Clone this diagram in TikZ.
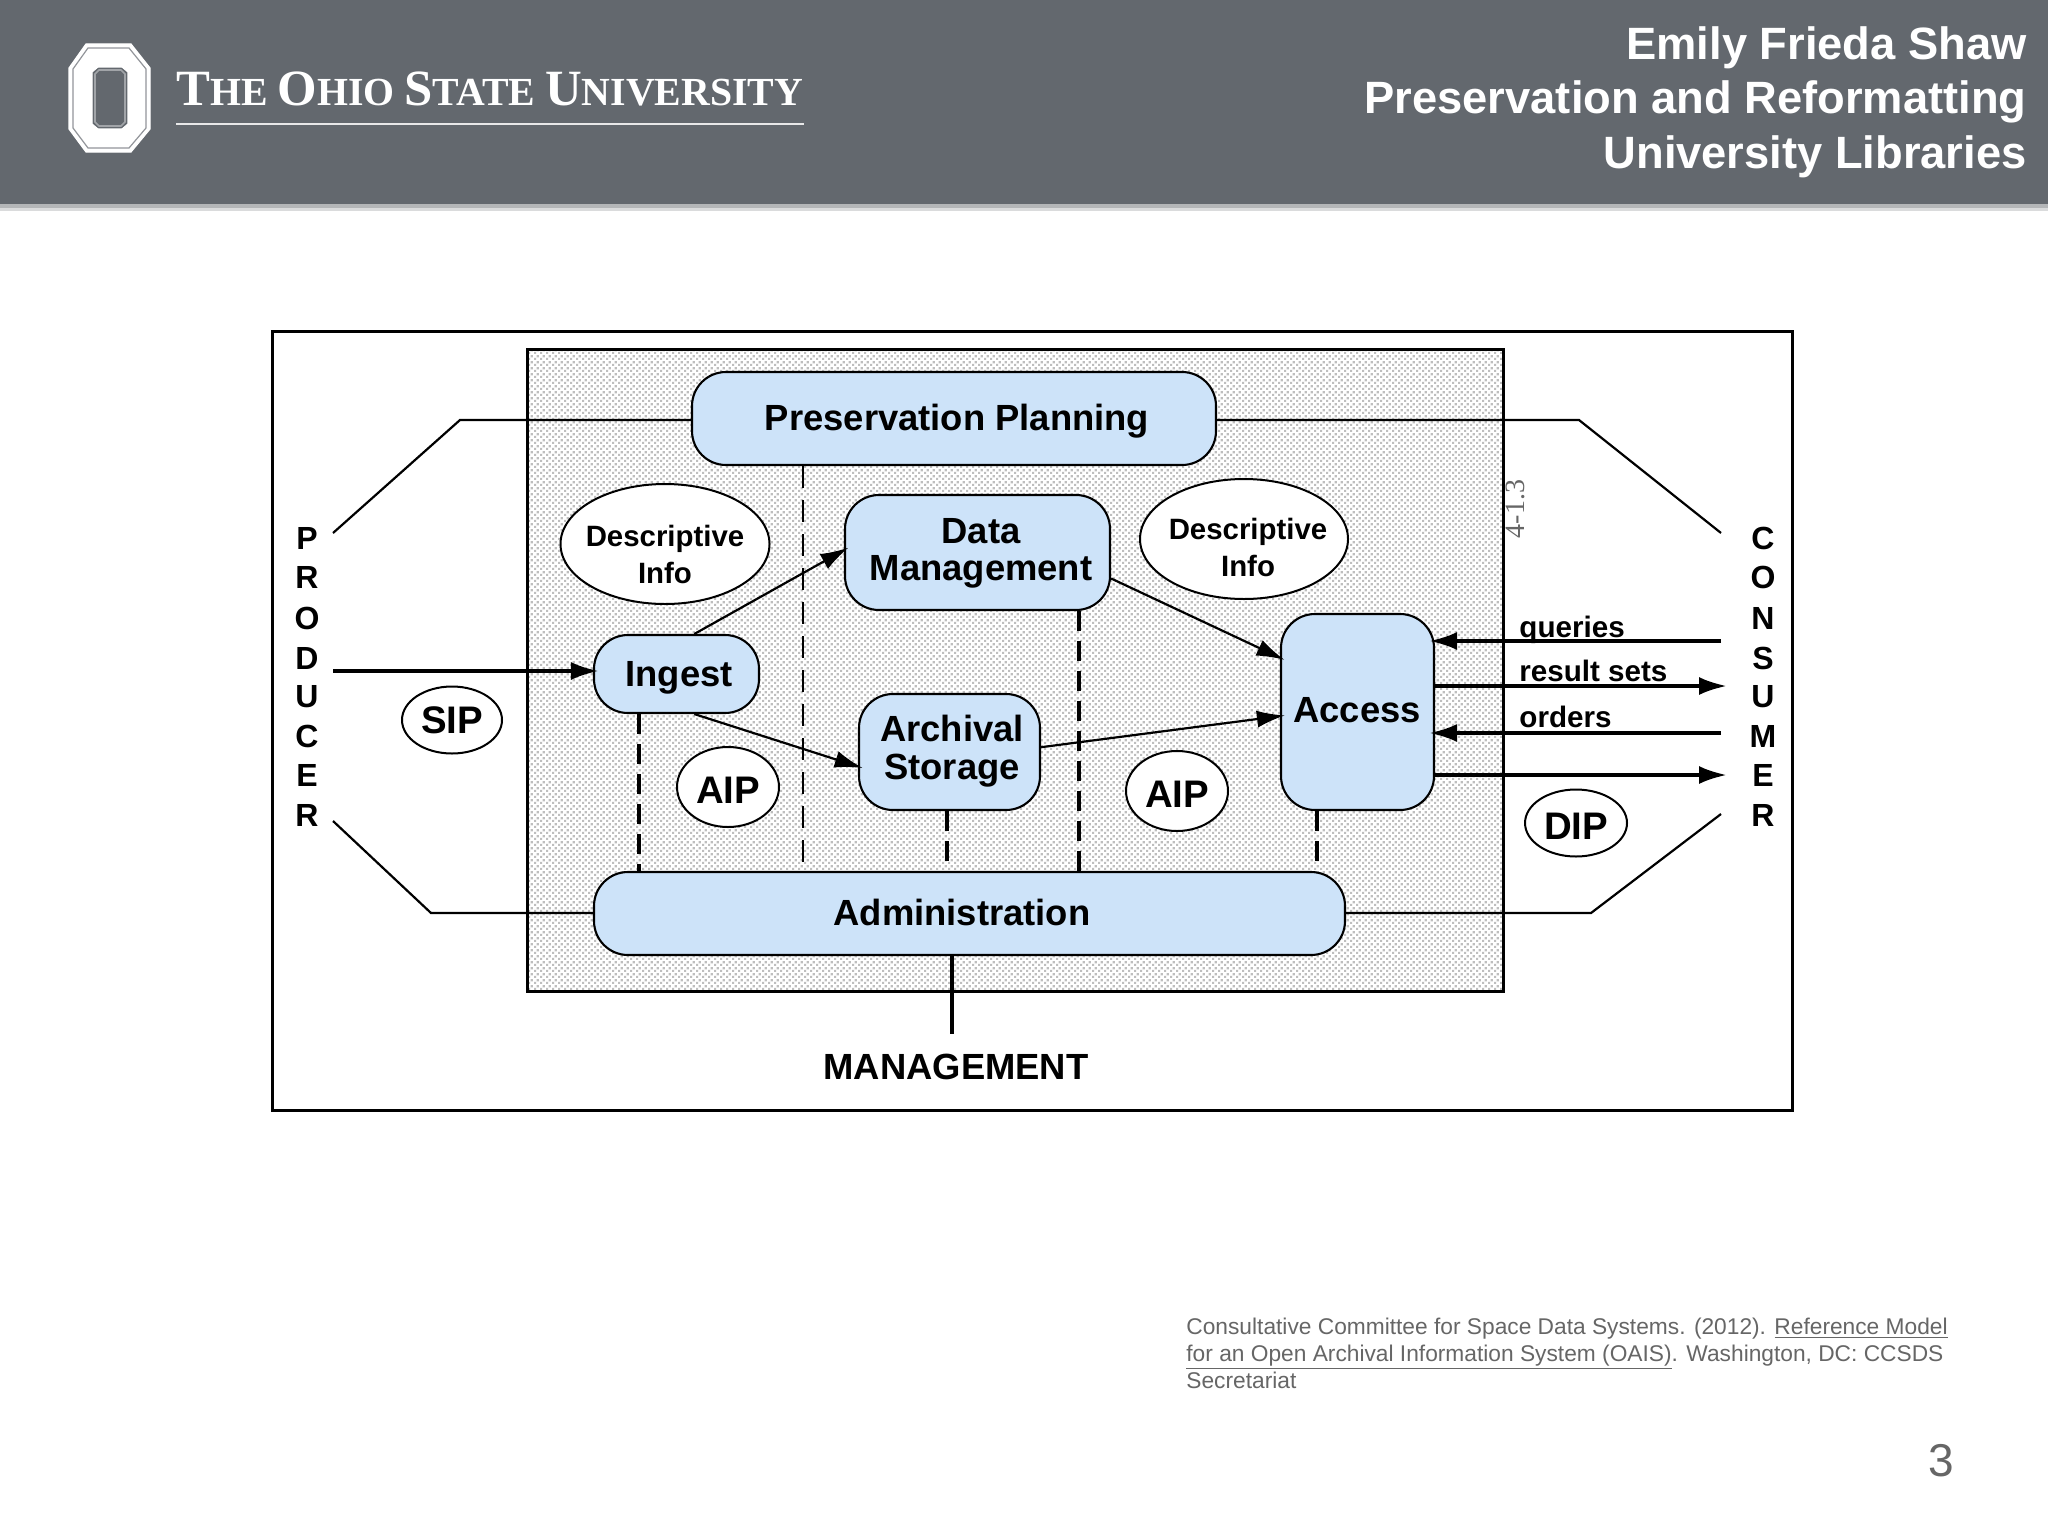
\documentclass[tikz,border=0pt]{standalone}
\usepackage{fontspec}
\setmainfont{Liberation Sans}
\newfontfamily\serifbrand{Liberation Serif}
\usetikzlibrary{arrows.meta,patterns,shapes.geometric,calc}
\definecolor{hdr}{HTML}{63686E}
\definecolor{shadowc}{HTML}{B4B6B8}
\definecolor{bluefill}{HTML}{CDE3F9}
\definecolor{stip}{HTML}{BEBEBE}
\definecolor{foot}{HTML}{666666}
\newcommand{\sz}[2]{\fontsize{#1}{#2}\selectfont}
\pgfdeclarepatternformonly{stipple}{\pgfqpoint{0pt}{0pt}}{\pgfqpoint{3pt}{3pt}}{\pgfqpoint{3pt}{3pt}}{%
 \pgfpathrectangle{\pgfqpoint{0pt}{0pt}}{\pgfqpoint{1.3pt}{1.3pt}}%
 \pgfpathrectangle{\pgfqpoint{1.5pt}{1.5pt}}{\pgfqpoint{1.3pt}{1.3pt}}%
 \pgfusepath{fill}}
\tikzset{
 x=0.5pt,y=-0.5pt,
 proc/.style={draw=black,line width=1.05pt,rounded corners=17pt,fill=bluefill,inner sep=0pt},
 ptext/.style={inner sep=0pt,align=center,font=\sz{18.2}{18.4}\bfseries},
 flow/.style={draw=black,line width=1.1pt,shorten >=-2.5pt,-{Latex[length=14pt,width=8.5pt]}},
 thick flow/.style={draw=black,line width=1.9pt,shorten >=-3pt,-{Latex[length=14pt,width=9pt]}},
 plain/.style={draw=black,line width=1.1pt},
 oval/.style={draw=black,line width=1pt,fill=white,ellipse,inner sep=0pt,align=center},
 pack/.style={oval,font=\sz{19.2}{19.2}\bfseries,text height=16pt,text depth=0pt},
 dtext/.style={inner sep=0pt,align=center,font=\sz{14.7}{18.5}\bfseries},
 dashA/.style={draw=black,line width=1.7pt,dash pattern=on 10pt off 5pt},
 dashB/.style={draw=black,line width=1pt,dash pattern=on 11pt off 6pt},
 letter/.style={inner sep=0pt,font=\sz{16}{16}\bfseries},
 lbl/.style={inner sep=0pt,anchor=west,font=\sz{14.8}{15}\bfseries},
 hline/.style={anchor=east,inner sep=0pt,text=white,font=\sz{22.65}{24}\bfseries},
 footline/.style={anchor=base west,inner sep=0pt,text=foot,font=\sz{11.37}{13.5}},
}
\begin{document}
\begin{tikzpicture}
\useasboundingbox (0,0) rectangle (2048,1536);
\fill[white] (0,0) rectangle (2048,1536);
% header
\fill[shadowc!50] (0,208) rectangle (2048,211);
\fill[shadowc] (0,204) rectangle (2048,208);
\fill[hdr] (0,0) rectangle (2048,204);
% logo
\fill[white,draw=white,line width=0.6pt,even odd rule] (86,44)--(131,44)--(150,68)--(150,129)--(131,152)--(86,152)--(69,129)--(69,68)--cycle
 (98,67)--(122,67)--(128,72)--(128,124)--(122,129)--(98,129)--(92,124)--(92,72)--cycle;
\draw[hdr!70,line width=0.6pt] (88,48)--(129,48)--(146,69)--(146,128)--(129,148)--(88,148)--(73,128)--(73,69)--cycle;
\draw[hdr!60,line width=0.8pt] (99,70)--(121,70)--(125,74)--(125,122)--(121,126)--(99,126)--(95,122)--(95,74)--cycle;
\node[anchor=base west,inner sep=0pt,text=white] (brand) at (176,105) {\serifbrand\bfseries \sz{25.4}{26}T\sz{19.9}{20}HE \sz{25.4}{26}O\sz{19.9}{20}HIO \sz{25.4}{26}S\sz{19.9}{20}TATE \sz{25.4}{26}U\sz{19.9}{20}NIVERSITY};
\draw[white!85!hdr,line width=1pt] (176,124) -- (804,124);
\node[hline] (h1) at (2027,48) {Emily Frieda Shaw};
\node[hline] (h2) at (2027,102) {Preservation and Reformatting};
\node[hline] (h3) at (2027,157) {University Libraries};
% frames
\draw[black,line width=1.5pt] (272.5,331) rectangle (1792,1110);
\fill[white] (527,349) rectangle (1503,991);
\fill[pattern=stipple,pattern color=stip] (527,349) rectangle (1503,991);
\draw[black,line width=1.5pt] (527,349) rectangle (1503,991);
\node[rotate=90,text=black!60,inner sep=0pt,font=\serifbrand\sz{14}{14}] (pg) at (1515,509) {4-1.3};
% nodes
\node[proc,minimum width=524pt/2,minimum height=93pt/2] (pp) at (954,418.5) {};
\node[ptext] (ppt) at (957,421) {Preservation Planning};
\node[proc,minimum width=265pt/2,minimum height=115pt/2] (dm) at (977.5,552.5) {};
\node[ptext] (dmt) at (981,553) {Data\\Management};
\node[proc,minimum width=165pt/2,minimum height=78pt/2] (ing) at (676.5,674) {};
\node[ptext] (ingt) at (679,678) {Ingest};
\node[proc,minimum width=181pt/2,minimum height=116pt/2] (ar) at (949.5,752) {};
\node[ptext,font=\sz{18.2}{19}\bfseries] (art) at (952,751) {Archival\\Storage};
\node[proc,minimum width=153pt/2,minimum height=196pt/2] (ac) at (1357.5,712) {};
\node[ptext] (act) at (1357,710) {Access};
\node[proc,minimum width=751pt/2,minimum height=83pt/2] (ad) at (969.5,913.5) {};
\node[ptext] (adt) at (962,912) {Administration};
% ellipses
\node[oval,minimum width=209pt/2,minimum height=120pt/2] (d1) at (665,544) {};
\node[dtext] (d1t) at (665,554) {Descriptive\\Info};
\node[oval,minimum width=208pt/2,minimum height=120pt/2] (d2) at (1244,539) {};
\node[dtext] (d2t) at (1248,547) {Descriptive\\Info};
\node[oval,font=\sz{19.2}{19.2}\bfseries,minimum width=100pt/2,minimum height=67pt/2] (sip) at (452,720) {SIP};
\node[pack,minimum width=102pt/2,minimum height=80pt/2] (aip1) at (728,787) {AIP};
\node[pack,minimum width=102pt/2,minimum height=80pt/2] (aip2) at (1177,791) {AIP};
\node[pack,minimum width=102pt/2,minimum height=67pt/2] (dip) at (1576,823) {DIP};
% producer/consumer letters
\foreach \l/\y/\n in {P/538/a,R/577/b,O/618/c,D/658/d,U/697/e,C/736/f,E/775/g,R/815/h}
  \node[letter] (p\n) at (307,\y) {\l};
\foreach \l/\y/\n in {C/538/a,O/577/b,N/618/c,S/658/d,U/697/e,M/736/f,E/775/g,R/815/h}
  \node[letter] (c\n) at (1763,\y) {\l};
\node[inner sep=0pt,font=\sz{18.2}{18}\bfseries] (mg) at (956,1067) {MANAGEMENT};
\coordinate (ptop) at (333,533); \coordinate (ptopk) at (460,420);
\coordinate (pbot) at (333,821); \coordinate (pbotk) at (431,913);
\coordinate (ctop) at (1721,533); \coordinate (ctopk) at (1579,420);
\coordinate (cbot) at (1721,814); \coordinate (cbotk) at (1591,913);
\coordinate (sipin) at (333,671);
\coordinate (q) at (1721,641); \coordinate (r) at (1721,686);
\coordinate (o) at (1721,733); \coordinate (di) at (1721,775);
\coordinate (mgtop) at (952,1034);
\draw[plain] (ptop) -- (ptopk) -- (ptopk -| pp.west);
\draw[plain] (ctop) -- (ctopk) -- (ctopk -| pp.east);
\draw[plain] (pbot) -- (pbotk) -- (pbotk -| ad.west);
\draw[plain] (cbot) -- (cbotk) -- (cbotk -| ad.east);
\draw[line width=1.7pt] (mgtop |- ad.south) -- (mgtop);
\draw[thick flow] (sipin) -- (sipin -| ing.west);
\draw[flow] (ing.66) -- (dm.179);
\draw[flow] (ing.-66) -- (ar.189.5);
\draw[flow] (dm.-11.3) -- (ac.145);
\draw[flow] (ar.3.2) -- (ac.183.7);
\draw[thick flow] (q) -- (q -| ac.east);
\draw[thick flow] (r -| ac.east) -- (r);
\draw[thick flow] (o) -- (o -| ac.east);
\draw[thick flow] (di -| ac.east) -- (di);
\node[lbl] (lq) at (1519,630) {queries};
\node[lbl] (lr) at (1519,671) {result sets};
\node[lbl] (lo) at (1519,717) {orders};
% dashed
\coordinate (x1) at (639,0); \coordinate (x2) at (803,0); \coordinate (x3) at (947,0); \coordinate (x4) at (1079,0); \coordinate (x5) at (1317,0);
\draw[dashA] (x1 |- ing.south) -- (x1 |- ad.north);
\draw[dashB] (x2 |- pp.south) -- (x2 |- ad.north);
\draw[dashA] (x3 |- ar.south) -- (x3 |- ad.north);
\draw[dashA] (x4 |- dm.south) -- (x4 |- ad.north);
\draw[dashA] (x5 |- ac.south) -- (x5 |- ad.north);
% footer
\node[footline] (f1) at (1186,1334) {Consultative Committee for Space Data Systems. (2012). \underline{Reference Model}};
\node[footline] (f2) at (1186,1361) {\underline{for an Open Archival Information System (OAIS)}. Washington, DC: CCSDS};
\node[footline] (f3) at (1186,1388) {Secretariat};
\node[inner sep=0pt,text=foot,font=\sz{23}{24}] (pn) at (1941,1461) {3};
\end{tikzpicture}
\end{document}
